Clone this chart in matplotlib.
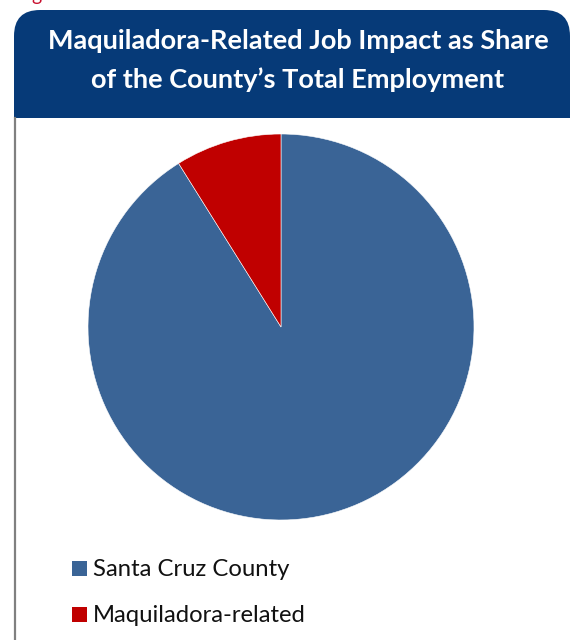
import matplotlib.pyplot as plt
from matplotlib.patches import FancyBboxPatch, Rectangle

# chart data
labels = ['Santa Cruz County', 'Maquiladora-related']
shares = [91.1, 8.9]
colors = ['#3A6496', '#C00000']
title_lines = ['Maquiladora-Related Job Impact as Share',
               'of the County\u2019s Total Employment']

W, H = 571, 640
fig = plt.figure(figsize=(W / 100, H / 100), dpi=100)

# background layer in pixel units (y down)
bg = fig.add_axes([0, 0, 1, 1])
bg.set_xlim(0, W)
bg.set_ylim(H, 0)
bg.axis('off')

header = FancyBboxPatch((14, 10), 556, 160,
                        boxstyle='round,pad=0,rounding_size=26',
                        facecolor='#063A78', edgecolor='none', zorder=1)
bg.add_patch(header)
bg.add_patch(Rectangle((14, 118), W, H, facecolor='white', edgecolor='none', zorder=2))
bg.plot([15, 15], [118, H], color='#808080', lw=1.6, zorder=3)

# cut-off caption above the panel
bg.text(31, 1, 'g', color='#C8102E', fontsize=14, family='Lato', va='baseline', zorder=4)

bg.text(298, 49, title_lines[0], color='white', fontsize=19.5, family='Lato',
        weight='bold', ha='center', va='baseline', zorder=4)
bg.text(298, 88, title_lines[1], color='white', fontsize=19.5, family='Lato',
        weight='bold', ha='center', va='baseline', zorder=4)

# legend
leg_y = [568, 614]
for lab, col, y in zip(labels, colors, leg_y):
    bg.add_patch(Rectangle((72, y - 7.5), 15, 15, facecolor=col, edgecolor='none', zorder=4))
    bg.text(93, y + 8, lab, fontsize=17.2, family='Lato', color='#111111',
            va='baseline', ha='left', zorder=4)

# pie, center (281, 327), radius 193 px
r = 193
cx, cy = 281, 327
ax = fig.add_axes([(cx - r) / W, (H - cy - r) / H, 2 * r / W, 2 * r / H])
ax.pie(shares, colors=colors, startangle=90, counterclock=False, radius=1,
       wedgeprops=dict(edgecolor='white', linewidth=0.4))
ax.set_xlim(-1, 1)
ax.set_ylim(-1, 1)

fig.savefig('out.png', dpi=100)
